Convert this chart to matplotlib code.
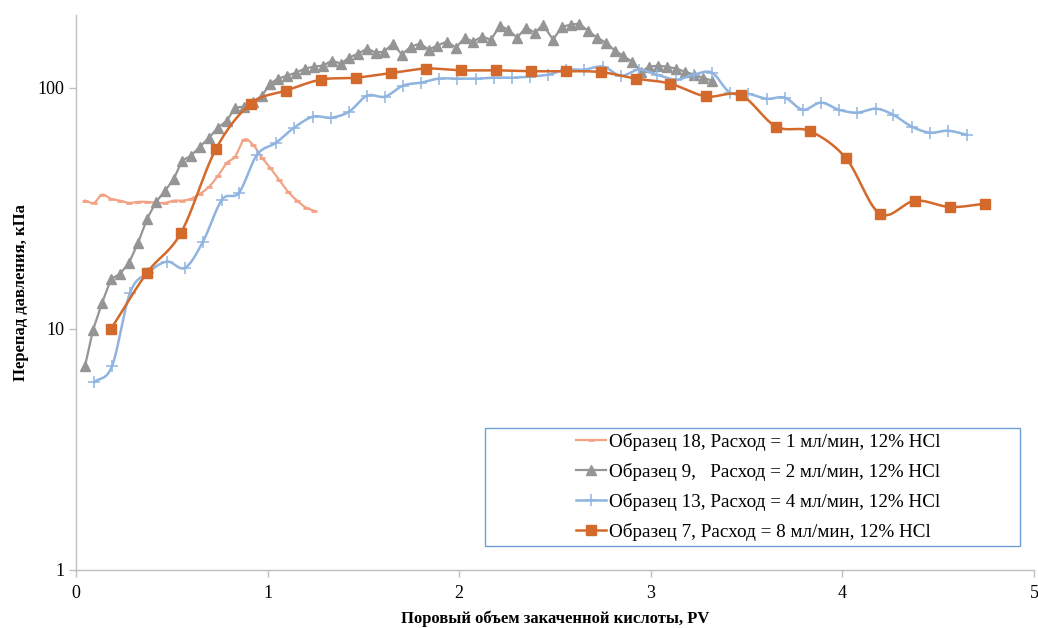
import numpy as np
import matplotlib
matplotlib.use('Agg')
import matplotlib.pyplot as plt
from matplotlib.lines import Line2D
from matplotlib.patches import Rectangle

plt.rcParams['font.family'] = ['Liberation Serif', 'DejaVu Serif']

# Образец 18, 1 мл/мин
pv_18 = [0.047, 0.094, 0.136, 0.183, 0.230, 0.277, 0.324, 0.371, 0.418, 0.465, 0.511, 0.553,
         0.600, 0.647, 0.694, 0.741, 0.788, 0.830, 0.877, 0.924, 0.971, 1.013, 1.060, 1.107,
         1.154, 1.201, 1.242]
dp_18 = [34.0, 33.3, 36.0, 34.6, 34.0, 33.3, 33.6, 33.6, 33.3, 33.3, 34.0, 34.0,
         34.6, 36.3, 38.8, 43.1, 48.8, 51.7, 60.8, 58.0, 51.2, 46.6, 41.5, 37.0,
         34.0, 31.8, 30.9]

# Образец 9, 2 мл/мин
pv_9 = [0.047, 0.089, 0.136, 0.183, 0.230, 0.277, 0.324, 0.371, 0.418, 0.465, 0.511, 0.553,
        0.600, 0.647, 0.694, 0.741, 0.788, 0.830, 0.877, 0.924, 0.971, 1.013, 1.054, 1.101,
        1.148, 1.195, 1.242, 1.289, 1.336, 1.383, 1.425, 1.472, 1.519, 1.566, 1.608, 1.654,
        1.701, 1.748, 1.795, 1.842, 1.884, 1.936, 1.983, 2.030, 2.072, 2.119, 2.166, 2.213,
        2.255, 2.302, 2.349, 2.396, 2.437, 2.490, 2.537, 2.584, 2.625, 2.672, 2.719, 2.766,
        2.813, 2.855, 2.902, 2.949, 2.991, 3.038, 3.085, 3.132, 3.179, 3.225, 3.272, 3.319]
dp_9 = [7.0, 9.9, 12.8, 16.1, 16.9, 18.8, 22.7, 28.6, 33.6, 37.4, 41.9, 49.8,
        52.2, 56.9, 62.0, 68.2, 73.0, 82.6, 83.4, 87.5, 92.6, 103.9, 109.0, 112.0,
        115.4, 120.0, 122.2, 123.4, 129.4, 125.8, 133.2, 138.4, 145.1, 139.7, 141.1, 152.3,
        137.1, 148.0, 152.3, 143.8, 149.4, 155.2, 146.6, 161.3, 155.2, 162.8, 158.2, 180.8,
        174.1, 161.3, 177.4, 169.1, 182.5, 158.2, 179.1, 182.5, 184.3, 172.4, 161.3, 153.7,
        142.4, 135.7, 128.2, 116.5, 122.2, 123.4, 122.2, 120.0, 116.5, 113.2, 110.0, 106.9]

# Образец 13, 4 мл/мин
pv_13 = [0.094, 0.188, 0.282, 0.376, 0.475, 0.569, 0.663, 0.762, 0.851, 0.945, 1.044, 1.138,
         1.237, 1.331, 1.425, 1.519, 1.613, 1.707, 1.801, 1.894, 1.988, 2.088, 2.182, 2.276,
         2.370, 2.463, 2.557, 2.651, 2.751, 2.844, 2.938, 3.032, 3.132, 3.225, 3.319, 3.413,
         3.507, 3.606, 3.700, 3.794, 3.888, 3.982, 4.076, 4.175, 4.264, 4.363, 4.457, 4.551,
         4.650]
dp_13 = [6.0, 7.0, 14.1, 17.1, 19.0, 17.9, 23.0, 34.3, 36.7, 52.7, 59.1, 68.2,
         75.8, 75.1, 79.5, 92.6, 91.8, 102.0, 104.9, 109.0, 109.0, 109.0, 110.0, 110.0,
         111.1, 113.2, 118.8, 118.8, 122.2, 112.0, 118.8, 113.2, 108.0, 113.2, 115.4, 95.4,
         94.4, 90.0, 90.9, 81.0, 86.7, 81.0, 78.8, 81.8, 77.3, 68.9, 65.1, 66.3,
         63.8]

# Образец 7, 8 мл/мин
pv_7 = [0.183, 0.371, 0.548, 0.731, 0.913, 1.096, 1.279, 1.461, 1.644, 1.827, 2.009, 2.192,
        2.375, 2.557, 2.740, 2.923, 3.100, 3.288, 3.471, 3.653, 3.831, 4.019, 4.196, 4.379,
        4.562, 4.744]
dp_7 = [10.0, 17.1, 25.0, 55.8, 85.9, 97.2, 108.0, 110.0, 115.0, 120.0, 118.0, 118.0,
        117.0, 117.0, 116.0, 109.0, 104.0, 92.0, 93.0, 69.0, 66.0, 51.0, 30.0, 34.0,
        32.0, 33.0]

labels = ['Образец 18, Расход = 1 мл/мин, 12% HCl',
          'Образец 9,   Расход = 2 мл/мин, 12% HCl',
          'Образец 13, Расход = 4 мл/мин, 12% HCl',
          'Образец 7, Расход = 8 мл/мин, 12% HCl']

c18 = '#F2A386'
c9 = '#959595'
c13 = '#8FB4E0'
c7 = '#D3692A'


def smooth(x, y, n=20):
    # Catmull-Rom curve through the points, in log-y space (like Excel "smoothed line")
    x = np.asarray(x, float)
    ly = np.log10(np.asarray(y, float))
    px = np.concatenate([[2 * x[0] - x[1]], x, [2 * x[-1] - x[-2]]])
    py = np.concatenate([[2 * ly[0] - ly[1]], ly, [2 * ly[-1] - ly[-2]]])
    t = np.linspace(0, 1, n, endpoint=False)[:, None]
    xs, ys = [], []
    for i in range(1, len(px) - 2):
        for arr, out in ((px, xs), (py, ys)):
            p0, p1, p2, p3 = arr[i - 1], arr[i], arr[i + 1], arr[i + 2]
            seg = 0.5 * (2 * p1 + (-p0 + p2) * t + (2 * p0 - 5 * p1 + 4 * p2 - p3) * t ** 2
                         + (-p0 + 3 * p1 - 3 * p2 + p3) * t ** 3)
            out.append(seg.ravel())
    xs.append([x[-1]])
    ys.append([ly[-1]])
    return np.concatenate(xs), 10 ** np.concatenate(ys)


fig = plt.figure(figsize=(10.38, 6.28), dpi=100)
ax = fig.add_axes([0.0732, 0.0924, 0.9229, 0.8836])
ax.set_yscale('log')

sx, sy = smooth(pv_18, dp_18)
ax.plot(sx, sy, color=c18, lw=1.6)
ax.plot(pv_18, dp_18, ls='none', marker='_', ms=5, mew=2, color=c18)

ax.plot(pv_9, dp_9, color=c9, lw=1.6, marker='^', ms=7.5, mec=c9, mfc=c9)

sx, sy = smooth(pv_13, dp_13)
ax.plot(sx, sy, color=c13, lw=1.8)
ax.plot(pv_13, dp_13, ls='none', marker='+', ms=8, mew=1.1, color=c13)

sx, sy = smooth(pv_7, dp_7)
ax.plot(sx, sy, color=c7, lw=1.8)
ax.plot(pv_7, dp_7, ls='none', marker='s', ms=7.5, color=c7)

ax.set_xlim(0, 5)
ax.set_ylim(1, 200)
ax.set_xticks([0, 1, 2, 3, 4, 5])
ax.set_xticklabels(['0', '1', '2', '3', '4', '5'])
ax.set_yticks([1, 10, 100])
ax.set_yticklabels(['1', '10', '100'])
ax.yaxis.set_minor_locator(matplotlib.ticker.NullLocator())

for s in ['top', 'right']:
    ax.spines[s].set_visible(False)
for s in ['left', 'bottom']:
    ax.spines[s].set_color('#BFBFBF')
    ax.spines[s].set_linewidth(1.0)
ax.tick_params(axis='both', colors='#BFBFBF', labelcolor='black', labelsize=13, length=5, width=1)
ax.tick_params(axis='x', pad=6)

ax.set_xlabel('Поровый объем закаченной кислоты, PV', fontsize=12, fontweight='bold', labelpad=6)
ax.set_ylabel('Перепад давления, кПа', fontsize=12, fontweight='bold', labelpad=6)

handles = [
    Line2D([], [], color=c18, lw=1.6, marker='_', ms=5, mew=2),
    Line2D([], [], color=c9, lw=1.6, marker='^', ms=7.5),
    Line2D([], [], color=c13, lw=1.8, marker='+', ms=8, mew=1.1),
    Line2D([], [], color=c7, lw=1.8, marker='s', ms=7.5),
]
leg = ax.legend(handles, labels, loc='center', bbox_to_anchor=(0.712, 0.1495), frameon=False,
                fontsize=13.8, handlelength=1.6, labelspacing=0.62, handletextpad=0.15,
                alignment='left')
ax.add_patch(Rectangle((0.427, 0.043), 0.558, 0.213, transform=ax.transAxes, fill=False,
                       ec='#6FA0D8', lw=1.0, zorder=5))

fig.savefig('out.png', dpi=100)
